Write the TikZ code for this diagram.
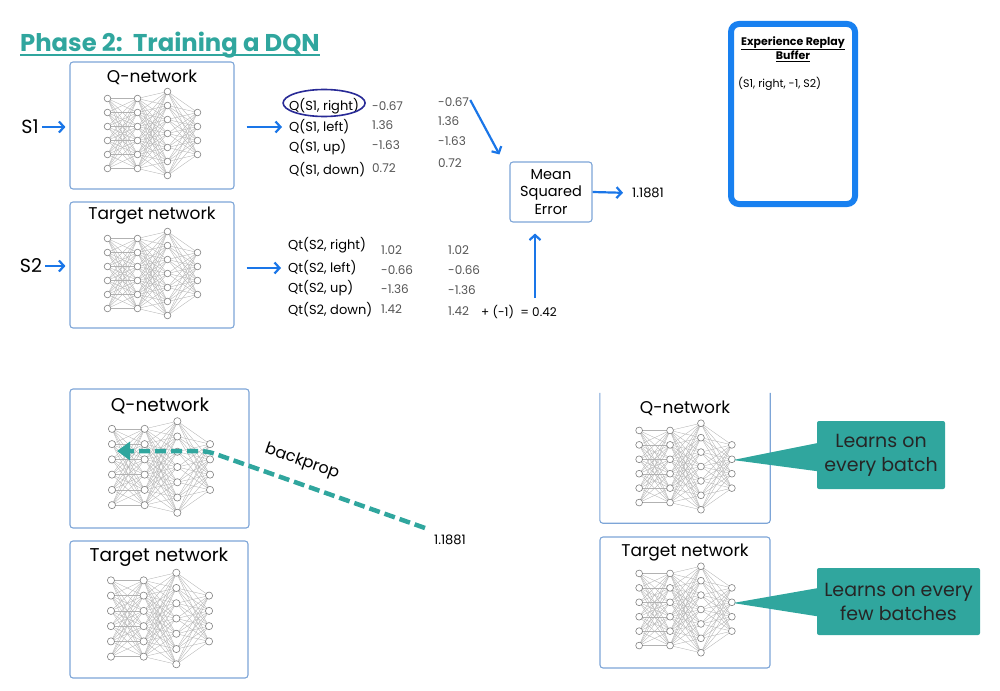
\documentclass[tikz,border=0pt]{standalone}
\usepackage{fontspec}
\setmainfont{Poppins}
\usepackage{tikz}
\usetikzlibrary{arrows.meta,positioning,shapes,shapes.callouts,calc}

\definecolor{dqnteal}{RGB}{48,166,158}
\definecolor{arrowblue}{RGB}{26,118,232}
\definecolor{boxblue}{RGB}{125,165,215}
\definecolor{bufblue}{RGB}{24,128,240}
\definecolor{circlenavy}{RGB}{40,42,150}
\definecolor{valgray}{RGB}{85,85,85}

\newlength{\ulwidth}
\newcommand{\thickul}[1]{\settowidth{\ulwidth}{#1}\rlap{\rule[-4.5pt]{\ulwidth}{1.8pt}}#1}

\tikzset{
  netbox/.style={draw=boxblue, line width=1.1pt, rounded corners=3pt, inner sep=0pt},
  netlabel/.style={font=\fontsize{17}{20}\selectfont, inner sep=1pt},
  netedge/.style={draw=black!30, line width=0.35pt},
  netnode/.style={draw=black!50, fill=white, line width=0.6pt},
  bluearrow/.style={draw=arrowblue, line width=2.2pt, -{Straight Barb[length=5pt,width=11pt]}},
  qtext/.style={anchor=west, inner sep=1pt, font=\fontsize{13}{15}\selectfont},
  vtext/.style={qtext, text=valgray, font=\fontsize{12}{14}\selectfont},
  bpline/.style={draw=dqnteal, line width=4.5pt, dash pattern=on 11pt off 5pt, rounded corners=8pt, -{Triangle[length=13pt,width=18pt]}},
  learnbox/.style={rectangle callout, fill=dqnteal, rounded corners=2pt, align=center, text=black!85,
    font=\fontsize{19}{24}\selectfont, inner xsep=3pt, callout pointer width=28pt},
  qnet/.pic={
    % connections between neighbouring layers
    \foreach \a/\na/\b/\nb in {-45/6/-15/6, -15/6/15/7, 15/7/45/4}
      \foreach \i in {1,...,\na}
        \foreach \j in {1,...,\nb}
          \draw[netedge] (\a,{(\i-(\na+1)/2)*14}) -- (\b,{(\j-(\nb+1)/2)*14});
    % neurons
    \foreach \x/\n in {-45/6, -15/6, 15/7, 45/4}
      \foreach \i in {1,...,\n}
        \draw[netnode] (\x,{(\i-(\n+1)/2)*14}) circle[radius=3.3];
  }
}

\begin{document}
\begin{tikzpicture}[x=1pt, y=-1pt]
  \useasboundingbox (0,0) rectangle (1000,690);

  \node[anchor=west, text=dqnteal, font=\bfseries\fontsize{24.3}{28}\selectfont, inner sep=0pt] (title) at (20,45) {\thickul{Phase 2:\ \ Training a DQN}};

  % top row: forward pass
  \node[netbox, minimum width=164pt, minimum height=127pt] (qbox) at (152,125.5) {};
  \node[netlabel] (qlab) at (152,77) {Q-network};
  \pic at (152.5,133.5) {qnet};
  \node[netbox, minimum width=164pt, minimum height=126pt] (tbox) at (152,265) {};
  \node[netlabel] (tlab) at (152,216) {Target network};
  \pic at (152.5,273.5) {qnet};

  \node[font=\fontsize{19}{22}\selectfont, inner sep=1pt] (s1) at (30,127) {S1};
  \node[font=\fontsize{19}{22}\selectfont, inner sep=1pt] (s2) at (31,266) {S2};
  \draw[bluearrow, shorten <=2pt, shorten >=4pt] (s1.east) -- (s1.east -| qbox.west);
  \draw[bluearrow, shorten <=2pt, shorten >=4pt] (s2.east) -- (s2.east -| tbox.west);

  \node[qtext] (qr) at (288,106) {Q(S1, right)};
  \node[qtext] (ql) at (288,127) {Q(S1, left)};
  \node[qtext] (qu) at (288,147) {Q(S1, up)};
  \node[qtext] (qd) at (288,170) {Q(S1, down)};
  \node[vtext] (va1) at (371,106) {-0.67};
  \node[vtext] (va2) at (371,125) {1.36};
  \node[vtext] (va3) at (371,145) {-1.63};
  \node[vtext] (va4) at (371,168) {0.72};
  \node[vtext] (vb1) at (437,102) {-0.67};
  \node[vtext] (vb2) at (437,121) {1.36};
  \node[vtext] (vb3) at (437,141) {-1.63};
  \node[vtext] (vb4) at (437,163) {0.72};
  \draw[circlenavy, line width=1.6pt] ([yshift=3pt]qr.center) ellipse[x radius=41, y radius=13.5];

  \node[qtext] (tr) at (287,245) {Qt(S2, right)};
  \node[qtext] (tl) at (287,268) {Qt(S2, left)};
  \node[qtext] (tu) at (287,288) {Qt(S2, up)};
  \node[qtext] (td) at (287,310) {Qt(S2, down)};
  \node[vtext] (wa1) at (380,250) {1.02};
  \node[vtext] (wa2) at (380,270) {-0.66};
  \node[vtext] (wa3) at (380,289) {-1.36};
  \node[vtext] (wa4) at (380,309) {1.42};
  \node[vtext] (wb1) at (447,250) {1.02};
  \node[vtext] (wb2) at (447,270) {-0.66};
  \node[vtext] (wb3) at (447,290) {-1.36};
  \node[vtext] (wb4) at (447,311) {1.42};
  \node[qtext, font=\fontsize{12}{14}\selectfont] (tgt) at (480,312) {+ (-1)\ \ = 0.42};

  \draw[bluearrow, shorten <=12pt, shorten >=6pt] (qbox.east |- ql) -- (ql.west);
  \draw[bluearrow, shorten <=12pt, shorten >=6pt] (tbox.east |- tl) -- (tl.west);

  \node[draw=boxblue, line width=1.1pt, rounded corners=3pt, minimum width=82pt, minimum height=60pt,
    align=center, font=\fontsize{14.5}{17.5}\selectfont] (mse) at (551,192) {Mean\\Squared\\Error};
  \node[qtext, font=\fontsize{13}{15}\selectfont] (err) at (631,193) {1.1881};
  \draw[bluearrow] ([yshift=2pt]vb1.east) -- ([xshift=-10pt,yshift=7pt]mse.north west);
  \coordinate (upin) at ([xshift=-16pt,yshift=-11pt]mse.south);
  \draw[bluearrow, shorten <=6pt] (upin |- tgt.north) -- (upin);
  \draw[bluearrow, shorten >=8pt] (mse.east) -- (err.west);

  % replay buffer
  \node[draw=bufblue, line width=6pt, rounded corners=8pt, minimum width=124pt, minimum height=180pt] (buffer) at (793,114) {};
  \node[font=\bfseries\fontsize{11}{14}\selectfont, align=center, inner sep=0pt] (bufhead) at (793,49) {\underline{Experience Replay}\\\underline{Buffer}};
  \node[anchor=west, font=\fontsize{11}{13}\selectfont, inner sep=0pt] (bufitem) at (738,84) {(S1, right, -1, S2)};

  % bottom left: backprop
  \node[netbox, minimum width=179pt, minimum height=139pt] (bqbox) at (159.5,458.5) {};
  \node[netlabel, font=\fontsize{18.5}{22}\selectfont] (bqlab) at (160,406) {Q-network};
  \pic[scale=1.09] at (161,467) {qnet};
  \node[netbox, minimum width=178pt, minimum height=137pt] (btbox) at (159,609.5) {};
  \node[netlabel, font=\fontsize{18.5}{22}\selectfont] (btlab) at (159,557) {Target network};
  \pic[scale=1.09] at (160,618.5) {qnet};

  \node[font=\fontsize{13}{15}\selectfont, inner sep=1pt] (bperr) at (450,540) {1.1881};
  \coordinate (bpbend) at (207,451);
  \coordinate (bptip) at (117,451);
  \draw[bpline] ([xshift=-25pt,yshift=12pt]bperr.center) -- (bpbend) -- (bptip);
  \node[rotate=-19.5, font=\fontsize{16}{18}\selectfont] (bplab) at (302,462) {backprop};

  % bottom right: update rates
  \node[minimum width=170pt, minimum height=130pt, inner sep=0pt] (rqbox) at (685,458) {};
  \draw[boxblue, line width=1.1pt, rounded corners=3pt] (rqbox.north west) -- (rqbox.south west) -- (rqbox.south east) -- (rqbox.north east);
  \node[netlabel] (rqlab) at (685,408) {Q-network};
  \pic[scale=1.03] at (685.5,466.5) {qnet};
  \node[netbox, minimum width=170pt, minimum height=131pt] (rtbox) at (685,602.5) {};
  \node[netlabel] (rtlab) at (685,552) {Target network};
  \pic[scale=1.03] at (685.5,609.5) {qnet};

  \coordinate (qout) at (733,460);
  \coordinate (tout) at (733,603);
  \node[learnbox, minimum width=128pt, minimum height=68pt, callout absolute pointer={(qout)}] (learn1) at (881,455) {Learns on\\every batch};
  \node[learnbox, minimum width=163pt, minimum height=67pt, callout absolute pointer={(tout)}] (learn2) at (898.5,601.5) {Learns on every\\few batches};
\end{tikzpicture}
\end{document}
